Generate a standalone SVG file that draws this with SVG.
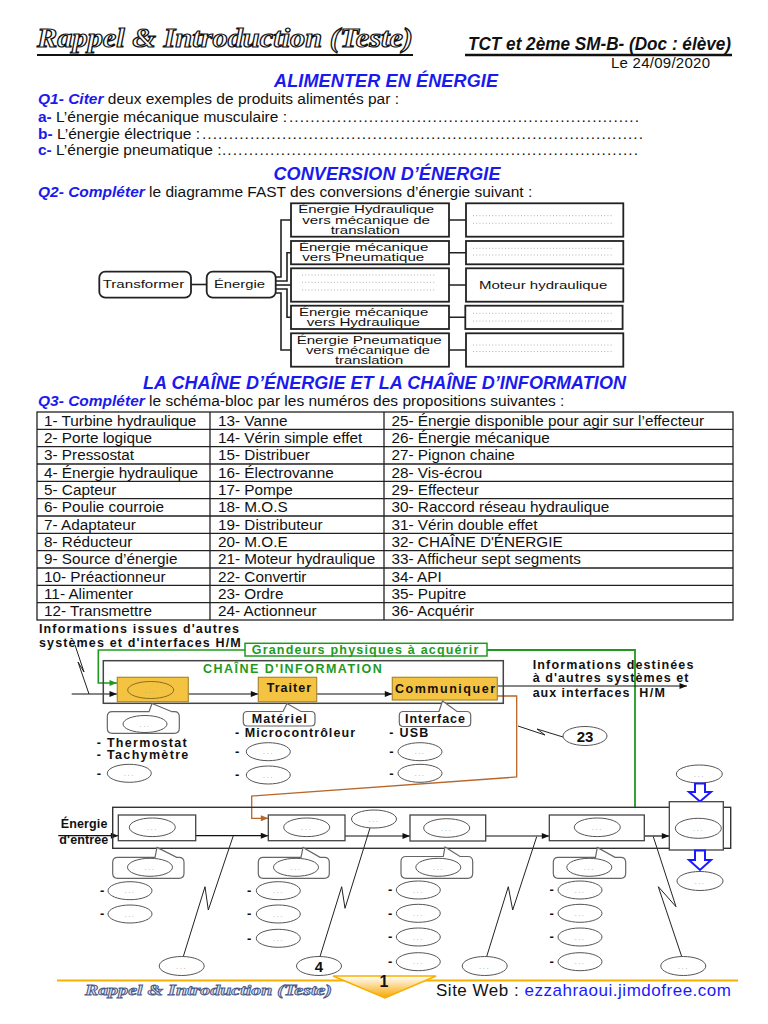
<svg xmlns="http://www.w3.org/2000/svg" width="768" height="1024" viewBox="0 0 768 1024">
<defs>
<style>
text{font-family:"Liberation Sans",Arial,sans-serif;}
.q{font-size:15.5px;fill:#111}
.qb{font-weight:bold;font-style:italic;fill:#1a1aee}
.qn{font-weight:bold;fill:#1a1aee}
.ttl{font-size:18px;font-weight:bold;font-style:italic;fill:#1a1aee;text-anchor:middle}
.srf{font-family:"Liberation Serif",serif;font-weight:bold;font-style:italic}
.fb{fill:#fff;stroke:#222;stroke-width:1.8}
.ft{font-size:10.5px;fill:#111}
.fl{fill:none;stroke:#222;stroke-width:1.6}
.pd{stroke:#aaa;stroke-width:0.9;stroke-dasharray:1 2.2}
.tb{fill:none;stroke:#222;stroke-width:1.3}
.tt{font-size:15.3px;fill:#111}
.bl{font-weight:bold;font-size:12.5px;fill:#111}
.gr{fill:#1f9a1f}
.el{fill:#fff;stroke:#555;stroke-width:1}
.ed{font-size:8px;fill:#aaa;text-anchor:middle;letter-spacing:1.5px}
.yb{fill:#f5c342;stroke:#a88a30;stroke-width:1.2}
.blk{fill:#fff;stroke:#444;stroke-width:1.3}
.co{fill:#fff;stroke:#666;stroke-width:1.2}
.ln{fill:none;stroke:#111;stroke-width:1.2}
.bolt{fill:none;stroke:#222;stroke-width:1}
.dash{font-weight:bold;font-size:13px;fill:#111}
.ba{fill:#fff;stroke:#1a1aff;stroke-width:2}
</style>
<marker id="ab" viewBox="0 0 10 8" refX="10" refY="4" markerWidth="9" markerHeight="6" markerUnits="userSpaceOnUse" orient="auto"><path d="M0,0L10,4L0,8Z" fill="#111"/></marker>
<marker id="ag" viewBox="0 0 10 8" refX="10" refY="4" markerWidth="9" markerHeight="6" markerUnits="userSpaceOnUse" orient="auto"><path d="M0,0L10,4L0,8Z" fill="#1f9a1f"/></marker>
<marker id="ao" viewBox="0 0 10 8" refX="10" refY="4" markerWidth="9" markerHeight="6" markerUnits="userSpaceOnUse" orient="auto"><path d="M0,0L10,4L0,8Z" fill="#b8662a"/></marker>
<linearGradient id="og" x1="0" y1="0" x2="0" y2="1"><stop offset="0" stop-color="#ffffff"/><stop offset="1" stop-color="#f7a600"/></linearGradient>
</defs>
<rect width="768" height="1024" fill="#fff"/>

<g id="header">
<text class="srf" x="37" y="47" font-size="27" fill="#fff" stroke="#111" stroke-width="1.2" textLength="376" lengthAdjust="spacingAndGlyphs">Rappel &amp; Introduction (Teste)</text>
<line x1="37" y1="55" x2="413" y2="55" stroke="#111" stroke-width="2.2"/>
<text x="468" y="49.5" font-size="18.5" font-weight="bold" font-style="italic" fill="#111" textLength="263" lengthAdjust="spacingAndGlyphs">TCT et 2ème SM-B- (Doc : élève)</text>
<line x1="465" y1="55" x2="732" y2="55" stroke="#111" stroke-width="2.5"/>
<text x="611" y="68" font-size="15" fill="#111" textLength="99">Le 24/09/2020</text>
</g>

<g id="q1">
<text class="ttl" x="386" y="87" textLength="224">ALIMENTER EN ÉNERGIE</text>
<text class="q" x="38" y="104"><tspan class="qb">Q1- Citer</tspan> deux exemples de produits alimentés par :</text>
<text class="q" x="38" y="121.7"><tspan class="qn">a-</tspan> L’énergie mécanique musculaire :</text>
<text class="q" x="289" y="121.7" textLength="350" lengthAdjust="spacing">..................................................................</text>
<text class="q" x="38" y="138.5"><tspan class="qn">b-</tspan> L’énergie électrique :</text>
<text class="q" x="202" y="138.5" textLength="441" lengthAdjust="spacing">...................................................................................</text>
<text class="q" x="38" y="155.3"><tspan class="qn">c-</tspan> L’énergie pneumatique :</text>
<text class="q" x="222" y="155.3" textLength="416" lengthAdjust="spacing">..............................................................................</text>
</g>

<g id="q2">
<text class="ttl" x="387" y="180" textLength="227">CONVERSION D’ÉNERGIE</text>
<text class="q" x="38" y="197.3"><tspan class="qb">Q2- Compléter</tspan> le diagramme FAST des conversions d’énergie suivant :</text>
</g>

<g id="fast-connectors">
<path class="fl" d="M191,284.5H206.7"/>
<path class="fl" d="M275.7,277H281V220H291"/>
<path class="fl" d="M275.7,281H287V252.7H291"/>
<path class="fl" d="M275.7,285H291"/>
<path class="fl" d="M275.7,289H287V317.3H291"/>
<path class="fl" d="M275.7,293H281V350H291"/>
<path class="fl" d="M449,220H466M449,252.7H466M449,285H466M449,317.3H466M449,350H466"/>
</g>
<g id="fast-transformer"><rect class="fb" x="99.3" y="271.7" width="91.7" height="26" rx="6"/><text class="ft" x="102.7" y="288.3" textLength="81.6" lengthAdjust="spacingAndGlyphs">Transformer</text></g>
<g id="fast-energie"><rect class="fb" x="206.7" y="271.7" width="69" height="26" rx="6"/><text class="ft" x="214" y="288.3" textLength="51" lengthAdjust="spacingAndGlyphs">Énergie</text></g>
<g id="fast-f1"><rect class="fb" x="291" y="203.3" width="158" height="33.4"/>
<text class="ft" x="298.3" y="213.3" textLength="135.7" lengthAdjust="spacingAndGlyphs">Énergie Hydraulique</text>
<text class="ft" x="302.3" y="223.8" textLength="127.7" lengthAdjust="spacingAndGlyphs">vers mécanique de</text>
<text class="ft" x="330.7" y="234" textLength="69.3" lengthAdjust="spacingAndGlyphs">translation</text></g>
<g id="fast-f2"><rect class="fb" x="291" y="241" width="158" height="23.3"/>
<text class="ft" x="299" y="251" textLength="129.3" lengthAdjust="spacingAndGlyphs">Énergie mécanique</text>
<text class="ft" x="302.3" y="261.3" textLength="122" lengthAdjust="spacingAndGlyphs">vers Pneumatique</text></g>
<g id="fast-f3"><rect class="fb" x="291" y="268.3" width="158" height="33.4"/><path class="pd" d="M302,275H435M302,282.3H435M302,290H435"/></g>
<g id="fast-f4"><rect class="fb" x="291" y="305.7" width="158" height="23.3"/>
<text class="ft" x="299" y="315.5" textLength="129.3" lengthAdjust="spacingAndGlyphs">Énergie mécanique</text>
<text class="ft" x="306.7" y="325.8" textLength="113.3" lengthAdjust="spacingAndGlyphs">vers Hydraulique</text></g>
<g id="fast-f5"><rect class="fb" x="291" y="333.3" width="158" height="33.4"/>
<text class="ft" x="296.7" y="343.5" textLength="145" lengthAdjust="spacingAndGlyphs">Énergie Pneumatique</text>
<text class="ft" x="306" y="354" textLength="124" lengthAdjust="spacingAndGlyphs">vers mécanique de</text>
<text class="ft" x="335" y="364.2" textLength="68.3" lengthAdjust="spacingAndGlyphs">translation</text></g>
<g id="fast-s1"><rect class="fb" x="466" y="203.3" width="157.3" height="33.4"/><path class="pd" d="M473,215.7H612M473,223.3H612"/></g>
<g id="fast-s2"><rect class="fb" x="466" y="241" width="157.3" height="23.3"/><path class="pd" d="M473,248.3H612M473,255H612"/></g>
<g id="fast-s3"><rect class="fb" x="466" y="268.3" width="157.3" height="33.4"/><text class="ft" x="479" y="288.5" textLength="128.3" lengthAdjust="spacingAndGlyphs">Moteur hydraulique</text></g>
<g id="fast-s4"><rect class="fb" x="465.3" y="305.7" width="157.3" height="23.3"/><path class="pd" d="M473,313.3H612M473,321H612"/></g>
<g id="fast-s5"><rect class="fb" x="466" y="333.3" width="157.3" height="33.4"/><path class="pd" d="M473,345H612M473,351.5H612"/></g>

<g id="q3">
<text class="ttl" x="384.5" y="389.3" textLength="483">LA CHAÎNE D’ÉNERGIE ET LA CHAÎNE D’INFORMATION</text>
<text class="q" x="38" y="406"><tspan class="qb">Q3- Compléter</tspan> le schéma-bloc par les numéros des propositions suivantes :</text>
</g>

<g id="table">
<rect class="tb" x="37" y="412" width="696" height="208"/>
<path class="tb" d="M210,412V620M384,412V620M37,429.33H733M37,446.67H733M37,464H733M37,481.33H733M37,498.67H733M37,516H733M37,533.33H733M37,550.67H733M37,568H733M37,585.33H733M37,602.67H733"/>
<g class="tt">
<text x="44" y="425.7">1- Turbine hydraulique</text><text x="218" y="425.7">13- Vanne</text><text x="391.5" y="425.7">25- Énergie disponible pour agir sur l’effecteur</text>
<text x="44" y="443">2- Porte logique</text><text x="218" y="443">14- Vérin simple effet</text><text x="391.5" y="443">26- Énergie mécanique</text>
<text x="44" y="460.4">3- Pressostat</text><text x="218" y="460.4">15- Distribuer</text><text x="391.5" y="460.4">27- Pignon chaine</text>
<text x="44" y="477.7">4- Énergie hydraulique</text><text x="218" y="477.7">16- Électrovanne</text><text x="391.5" y="477.7">28- Vis-écrou</text>
<text x="44" y="495">5- Capteur</text><text x="218" y="495">17- Pompe</text><text x="391.5" y="495">29- Effecteur</text>
<text x="44" y="512.4">6- Poulie courroie</text><text x="218" y="512.4">18- M.O.S</text><text x="391.5" y="512.4">30- Raccord réseau hydraulique</text>
<text x="44" y="529.7">7- Adaptateur</text><text x="218" y="529.7">19- Distributeur</text><text x="391.5" y="529.7">31- Vérin double effet</text>
<text x="44" y="547">8- Réducteur</text><text x="218" y="547">20- M.O.E</text><text x="391.5" y="547">32- CHAÎNE D'ÉNERGIE</text>
<text x="44" y="564.4">9- Source d’énergie</text><text x="218" y="564.4">21- Moteur hydraulique</text><text x="391.5" y="564.4">33- Afficheur sept segments</text>
<text x="44" y="581.7">10- Préactionneur</text><text x="218" y="581.7">22- Convertir</text><text x="391.5" y="581.7">34- API</text>
<text x="44" y="599">11- Alimenter</text><text x="218" y="599">23- Ordre</text><text x="391.5" y="599">35- Pupitre</text>
<text x="44" y="616.4">12- Transmettre</text><text x="218" y="616.4">24- Actionneur</text><text x="391.5" y="616.4">36- Acquérir</text>
</g>
</g>

<g id="connectors">
<path d="M245,650H98.3V683H117" fill="none" stroke="#1f9a1f" stroke-width="1.6" marker-end="url(#ag)"/>
<path d="M487,650H635V807" fill="none" stroke="#1f9a1f" stroke-width="1.8"/>
<path class="ln" d="M71.7,694H117" marker-end="url(#ab)"/>
<path class="ln" d="M188.3,694H258.3" marker-end="url(#ab)"/>
<path class="ln" d="M316.7,694H392.3" marker-end="url(#ab)"/>
<path class="ln" d="M497.3,686H687" marker-end="url(#ab)"/>
<polyline class="bolt" points="75,645 84,672 78,662 89,694"/>
<polyline class="bolt" points="518,726 545,735 537,729 563,737"/>
<path d="M497.3,696H516.7V777L251.7,796V818.3H268.3" fill="none" stroke="#b8662a" stroke-width="1.3" marker-end="url(#ao)"/>
<path class="ln" d="M58.3,835.7H118.3" marker-end="url(#ab)"/>
<path class="ln" d="M195.7,835.7H268.3" marker-end="url(#ab)"/>
<path class="ln" d="M345,836H410" marker-end="url(#ab)"/>
<path class="ln" d="M485.7,836H549.3" marker-end="url(#ab)"/>
<path class="ln" d="M644.3,836H669.3" marker-end="url(#ab)"/>
<polyline class="bolt" points="233.3,835.7 208.3,910 205,886.7 183.3,956.5"/>
<polyline class="bolt" points="370,828 345,908.3 341.7,886.7 320,956.5"/>
<polyline class="bolt" points="536.7,836.7 512.7,910 508.3,886.7 486.7,956.5"/>
<polyline class="bolt" points="653.3,836.7 676,906.7 658.3,886.7 681.7,956.5"/>
</g>

<g id="info-labels">
<text class="bl" x="39" y="632.7" textLength="200">Informations issues d'autres</text>
<text class="bl" x="39" y="646.7" textLength="201.7">systèmes et d'interfaces H/M</text>
<text class="bl" x="532.7" y="669" font-size="11.5" textLength="160.7">Informations destinées</text>
<text class="bl" x="532.7" y="682" font-size="11.5" textLength="155.7">à d'autres systèmes et</text>
<text class="bl" x="532.7" y="696.7" textLength="96.7">aux interfaces</text>
<text class="bl" x="639.3" y="696.7" textLength="25.7">H/M</text>
</g>
<g id="grandeurs">
<rect x="245" y="643.3" width="242" height="12.7" fill="#fff" stroke="#1f9a1f" stroke-width="1.5"/>
<text class="bl gr" x="251.7" y="654" textLength="226.7">Grandeurs physiques à acquérir</text>
</g>
<g id="chaine-information">
<rect x="103.3" y="660.7" width="400" height="42.6" fill="none" stroke="#444" stroke-width="1.5"/>
<text class="bl gr" x="203" y="672.7" textLength="178.7">CHAÎNE D'INFORMATION</text>
</g>
<g id="acquerir">
<rect class="yb" x="117.3" y="677.3" width="71" height="24.4"/>
<ellipse cx="150.7" cy="690" rx="23" ry="8.5" fill="#f5c342" stroke="#8a6d20" stroke-width="1"/><text class="ed" x="150.7" y="692.5">...</text>
</g>
<g id="traiter"><rect class="yb" x="258.3" y="677.3" width="58.4" height="24.4"/><text class="bl" x="266.7" y="692" textLength="44.3" font-size="13">Traiter</text></g>
<g id="communiquer"><rect class="yb" x="392.3" y="677.3" width="105" height="22.7"/><text class="bl" x="395" y="692.7" textLength="100" font-size="13">Communiquer</text></g>

<g id="callout-acquerir">
<path class="co" d="M112.3,711.7H149L152,703.5L172,711.7H174.3Q179.3,711.7 179.3,716.7V728.3Q179.3,733.3 174.3,733.3H112.3Q107.3,733.3 107.3,728.3V716.7Q107.3,711.7 112.3,711.7Z"/>
<ellipse class="el" cx="145" cy="724" rx="22" ry="8.5"/><text class="ed" x="145" y="726.5">...</text>
<text class="bl" x="96.7" y="747.3" font-size="13" textLength="90">- Thermostat</text>
<text class="bl" x="96.7" y="759.3" font-size="13" textLength="91.6">- Tachymètre</text>
<text class="dash" x="96.7" y="777.5">-</text><ellipse class="el" cx="129.3" cy="773.3" rx="22" ry="9"/><text class="ed" x="129.3" y="775.8">...</text>
</g>
<g id="callout-materiel">
<path class="co" d="M247.3,711.5H283L287,703.5L301,711.5H311Q315,711.5 315,715.5V722Q315,726 311,726H247.3Q243.3,726 243.3,722V715.5Q243.3,711.5 247.3,711.5Z"/>
<text class="bl" x="251.7" y="722.5" font-size="12" textLength="55">Matériel</text>
<text class="bl" x="235" y="737.3" font-size="13" textLength="120">- Microcontrôleur</text>
<text class="dash" x="235" y="755.9">-</text><ellipse class="el" cx="268.3" cy="751.7" rx="22" ry="9"/><text class="ed" x="268.3" y="754.2">...</text>
<text class="dash" x="235" y="779.2">-</text><ellipse class="el" cx="268.3" cy="775" rx="22" ry="9"/><text class="ed" x="268.3" y="777.5">...</text>
</g>
<g id="callout-interface">
<path class="co" d="M403.3,711.5H439L442.5,701L457,711.5H466.7Q470.7,711.5 470.7,715.5V722.5Q470.7,726.5 466.7,726.5H403.3Q399.3,726.5 399.3,722.5V715.5Q399.3,711.5 403.3,711.5Z"/>
<text class="bl" x="405" y="722.5" font-size="12" textLength="60">Interface</text>
<text class="bl" x="389.3" y="737.3" font-size="13" textLength="39">- USB</text>
<text class="dash" x="389.3" y="755.9">-</text><ellipse class="el" cx="420" cy="751.7" rx="22" ry="9"/><text class="ed" x="420" y="754.2">...</text>
<text class="dash" x="389.3" y="777.5">-</text><ellipse class="el" cx="420" cy="773.3" rx="22" ry="9"/><text class="ed" x="420" y="775.8">...</text>
</g>
<g id="ordre-23"><ellipse class="el" cx="585" cy="736" rx="22" ry="9.5" stroke="#222"/><text x="585" y="741.5" font-size="15" font-weight="bold" text-anchor="middle" fill="#111">23</text></g>

<g id="chaine-energie">
<rect x="112.7" y="807.3" width="618" height="41" fill="none" stroke="#333" stroke-width="1.4"/>
<text class="bl" x="60.7" y="828.3" textLength="46.7">Énergie</text>
<text class="bl" x="59.3" y="844" textLength="49">d'entrée</text>
</g>
<g id="bloc-alimenter"><rect class="blk" x="118.3" y="815" width="77.4" height="25.7"/><ellipse class="el" cx="152.3" cy="827.3" rx="23" ry="9.3"/><text class="ed" x="152.3" y="829.8">...</text></g>
<g id="bloc-distribuer"><rect class="blk" x="268.3" y="815" width="76.7" height="25.7"/><ellipse class="el" cx="306.7" cy="827.3" rx="23" ry="9.3"/><text class="ed" x="306.7" y="829.8">...</text></g>
<g id="energie-label"><ellipse class="el" cx="374" cy="819" rx="22.5" ry="9"/><text class="ed" x="374" y="821.5">...</text></g>
<g id="bloc-convertir"><rect class="blk" x="410" y="815" width="75.7" height="26"/><ellipse class="el" cx="446.7" cy="828" rx="23" ry="9.3"/><text class="ed" x="446.7" y="830.5">...</text></g>
<g id="bloc-transmettre"><rect class="blk" x="549.3" y="815" width="95" height="25.7"/><ellipse class="el" cx="597.3" cy="827.3" rx="23" ry="9.3"/><text class="ed" x="597.3" y="829.8">...</text></g>
<g id="effecteur">
<ellipse class="el" cx="699.3" cy="774" rx="23" ry="9"/><text class="ed" x="699.3" y="776.5">...</text>
<path class="ba" d="M695,783.5H705V792H711L700,801.5L689,792H695Z"/>
<rect class="blk" x="669.3" y="801.7" width="54" height="48.3"/>
<ellipse class="el" cx="698.3" cy="828.3" rx="23" ry="10"/><text class="ed" x="698.3" y="830.8">...</text>
<path class="ba" d="M695,850.5H705V860H711L700,870L689,860H695Z"/>
<ellipse class="el" cx="700" cy="881" rx="23" ry="9.5"/><text class="ed" x="700" y="883.5">...</text>
</g>

<g id="col-1">
<path class="co" d="M117.7,857.3H155L157,847.5L176.7,857.3H179Q184,857.3 184,862.3V873.3Q184,878.3 179,878.3H117.7Q112.7,878.3 112.7,873.3V862.3Q112.7,857.3 117.7,857.3Z"/>
<ellipse class="el" cx="150" cy="867.3" rx="22.5" ry="9"/><text class="ed" x="150" y="869.8">...</text>
<text class="dash" x="100" y="894.9">-</text><ellipse class="el" cx="130" cy="890.7" rx="22" ry="9"/><text class="ed" x="130" y="893.2">...</text>
<text class="dash" x="100" y="918.2">-</text><ellipse class="el" cx="130" cy="914" rx="22" ry="9"/><text class="ed" x="130" y="916.5">...</text>
</g>
<g id="col-2">
<path class="co" d="M263.3,857.3H301L303,847.5L320,857.3H324.3Q329.3,857.3 329.3,862.3V873.3Q329.3,878.3 324.3,878.3H263.3Q258.3,878.3 258.3,873.3V862.3Q258.3,857.3 263.3,857.3Z"/>
<ellipse class="el" cx="296" cy="867.3" rx="22.5" ry="9"/><text class="ed" x="296" y="869.8">...</text>
<text class="dash" x="247" y="894.9">-</text><ellipse class="el" cx="278.3" cy="890.7" rx="22" ry="9"/><text class="ed" x="278.3" y="893.2">...</text>
<text class="dash" x="247" y="918.2">-</text><ellipse class="el" cx="278.3" cy="914" rx="22" ry="9"/><text class="ed" x="278.3" y="916.5">...</text>
<text class="dash" x="247" y="942.5">-</text><ellipse class="el" cx="278.3" cy="938.3" rx="22" ry="9"/><text class="ed" x="278.3" y="940.8">...</text>
</g>
<g id="col-3">
<path class="co" d="M406,856.5H443.3L445,847L460,856.5H467.7Q472.7,856.5 472.7,861.5V873.3Q472.7,878.3 467.7,878.3H406Q401,878.3 401,873.3V861.5Q401,856.5 406,856.5Z"/>
<ellipse class="el" cx="438.3" cy="867.3" rx="22.5" ry="9"/><text class="ed" x="438.3" y="869.8">...</text>
<text class="dash" x="388" y="894.2">-</text><ellipse class="el" cx="418.3" cy="890" rx="22" ry="9"/><text class="ed" x="418.3" y="892.5">...</text>
<text class="dash" x="388" y="917.5">-</text><ellipse class="el" cx="418.3" cy="913.3" rx="22" ry="9"/><text class="ed" x="418.3" y="915.8">...</text>
<text class="dash" x="388" y="941.2">-</text><ellipse class="el" cx="418.3" cy="937" rx="22" ry="9"/><text class="ed" x="418.3" y="939.5">...</text>
<text class="dash" x="388" y="965.9">-</text><ellipse class="el" cx="418.3" cy="961.7" rx="22" ry="9"/><text class="ed" x="418.3" y="964.2">...</text>
</g>
<g id="col-4">
<path class="co" d="M558.3,857.3H595.5L597.3,847.5L615,857.3H620.7Q625.7,857.3 625.7,862.3V873.3Q625.7,878.3 620.7,878.3H558.3Q553.3,878.3 553.3,873.3V862.3Q553.3,857.3 558.3,857.3Z"/>
<ellipse class="el" cx="589.3" cy="867.3" rx="22.5" ry="9"/><text class="ed" x="589.3" y="869.8">...</text>
<text class="dash" x="549.5" y="894.2">-</text><ellipse class="el" cx="580" cy="890" rx="22" ry="9"/><text class="ed" x="580" y="892.5">...</text>
<text class="dash" x="549.5" y="917.5">-</text><ellipse class="el" cx="580" cy="913.3" rx="22" ry="9"/><text class="ed" x="580" y="915.8">...</text>
<text class="dash" x="549.5" y="941.2">-</text><ellipse class="el" cx="580" cy="937" rx="22" ry="9"/><text class="ed" x="580" y="939.5">...</text>
<text class="dash" x="549.5" y="965.9">-</text><ellipse class="el" cx="580" cy="961.7" rx="22" ry="9"/><text class="ed" x="580" y="964.2">...</text>
</g>
<g id="bottom-ellipses">
<ellipse class="el" cx="181.7" cy="966" rx="22.5" ry="9.5"/><text class="ed" x="181.7" y="968.5">...</text>
<ellipse class="el" cx="319" cy="966" rx="22.5" ry="9.5" stroke="#222"/><text x="319" y="971.5" font-size="15" font-weight="bold" text-anchor="middle" fill="#111">4</text>
<ellipse class="el" cx="484.7" cy="966" rx="22.5" ry="9.5"/><text class="ed" x="484.7" y="968.5">...</text>
<ellipse class="el" cx="683.3" cy="966" rx="22.5" ry="9.5"/><text class="ed" x="683.3" y="968.5">...</text>
</g>

<g id="footer">
<path d="M57,980.5H345M424,980.5H738" stroke="#f7b000" stroke-width="2"/>
<polygon points="333,976 436,976 385,998" fill="url(#og)" stroke="#f7b000" stroke-width="1.5"/>
<text x="384" y="987" font-size="16" font-weight="bold" text-anchor="middle" fill="#111">1</text>
<text class="srf" x="85" y="995" font-size="14" fill="#e4eaf6" stroke="#4a5a8a" stroke-width="0.8" textLength="247" lengthAdjust="spacingAndGlyphs">Rappel &amp; Introduction (Teste)</text>
<text x="436" y="996" font-size="17" fill="#111" textLength="295">Site Web : <tspan fill="#1a1aff">ezzahraoui.jimdofree.com</tspan></text>
</g>
</svg>
